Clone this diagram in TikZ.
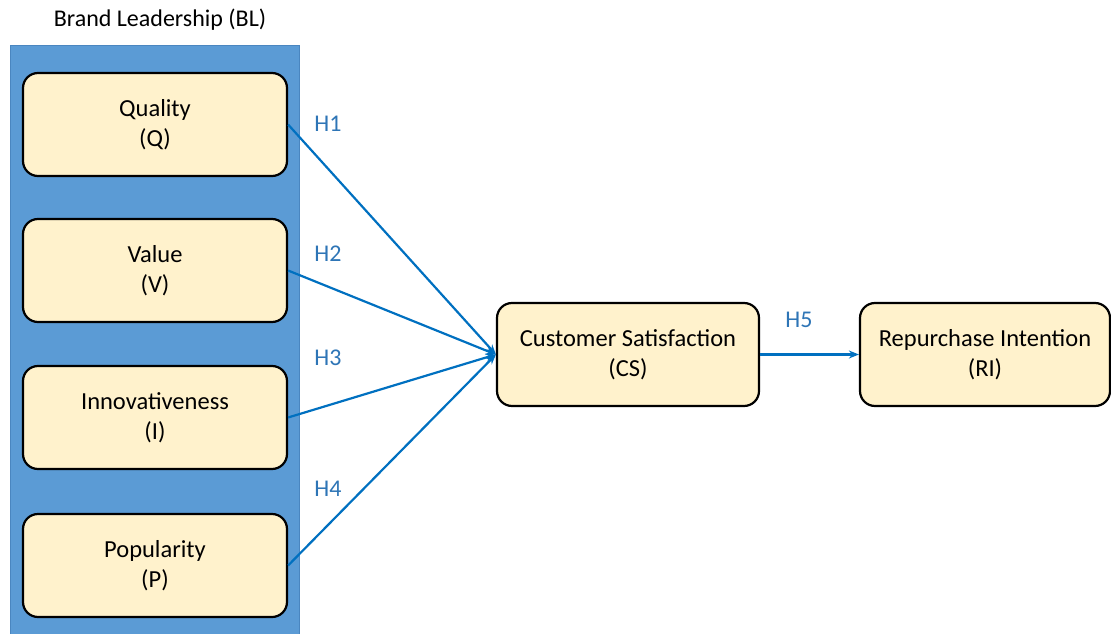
\documentclass[tikz,border=0pt]{standalone}
\usepackage{fontspec}
\setmainfont{Carlito}
\usetikzlibrary{arrows.meta}
\definecolor{bgblue}{HTML}{5B9BD5}
\definecolor{bgedge}{HTML}{4A86C0}
\definecolor{boxfill}{HTML}{FFF2CC}
\definecolor{arrowblue}{HTML}{0070C0}
\definecolor{labblue}{HTML}{2E75B6}
\tikzset{
  construct/.style={draw=black, line width=2.2pt, fill=boxfill, rounded corners=15pt,
    align=center, font=\fontsize{24.5}{30}\selectfont, inner sep=0pt},
  hyp/.style={draw=arrowblue, line width=2.2pt, -{Stealth[length=10pt,width=8pt]}},
  hlab/.style={text=labblue, font=\fontsize{24}{26}\selectfont},
}
\begin{document}
\begin{tikzpicture}[x=1pt,y=-1pt]
\useasboundingbox (0,0) rectangle (1111,634);
\fill[bgblue] (10,46) rectangle (299,640);
\draw[bgedge, line width=1pt] (10,640) -- (10,46) -- (299,46) -- (299,640);
\node[font=\fontsize{24}{26}\selectfont] (bl) at (160,20) {Brand Leadership (BL)};
\node[construct, minimum width=264pt, minimum height=103pt] (q) at (155,124.5) {Quality\\(Q)};
\node[construct, minimum width=264pt, minimum height=103pt] (v) at (155,270.5) {Value\\(V)};
\node[construct, minimum width=264pt, minimum height=103pt] (i) at (155,417.5) {Innovativeness\\(I)};
\node[construct, minimum width=264pt, minimum height=103pt] (p) at (155,565.5) {Popularity\\(P)};
\node[construct, minimum width=262pt, minimum height=103pt] (cs) at (628,354.5) {Customer Satisfaction\\(CS)};
\node[construct, minimum width=250pt, minimum height=103pt] (ri) at (985,354.5) {Repurchase Intention\\(RI)};
\draw[hyp] (q.east) -- (cs.west);
\draw[hyp] (v.east) -- (cs.west);
\draw[hyp] (i.east) -- (cs.west);
\draw[hyp] (p.east) -- (cs.west);
\draw[hyp] (cs.east) -- (ri.west);
\node[hlab] (h1) at (328,124) {H1};
\node[hlab] (h2) at (328,254) {H2};
\node[hlab] (h3) at (328,358) {H3};
\node[hlab] (h4) at (328,489) {H4};
\node[hlab] (h5) at (799,320) {H5};
\end{tikzpicture}
\end{document}
